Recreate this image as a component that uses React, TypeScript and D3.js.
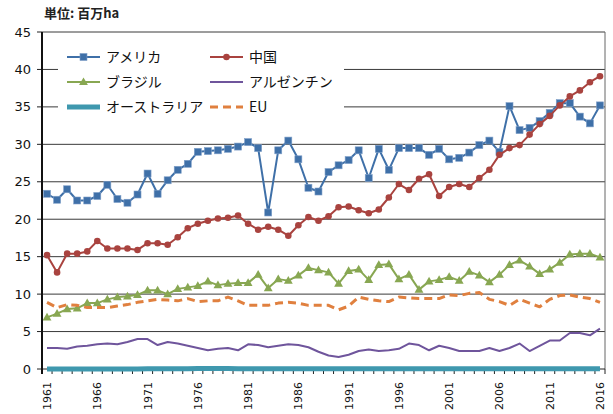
import React from 'react';
import * as d3 from 'd3';

const years = d3.range(1961, 2017);

const usa = [23.4, 22.6, 24.0, 22.5, 22.5, 23.1, 24.6, 22.7, 22.2, 23.3, 26.1, 23.4, 25.2, 26.6, 27.4, 29.0, 29.1, 29.2, 29.4, 29.7,
  30.3, 29.5, 20.9, 29.2, 30.5, 28.0, 24.2, 23.7, 26.3, 27.2, 27.9, 29.2, 25.5, 29.4, 26.6, 29.5, 29.5, 29.5, 28.6, 29.4,
  28.0, 28.2, 28.9, 29.9, 30.5, 29.0, 35.1, 31.9, 32.2, 33.1, 34.2, 35.5, 35.5, 33.7, 32.8, 35.2];
const china = [15.2, 12.9, 15.4, 15.4, 15.7, 17.1, 16.1, 16.1, 16.1, 15.9, 16.8, 16.8, 16.6, 17.6, 18.8, 19.4, 19.8, 20.1, 20.2, 20.5,
  19.4, 18.6, 19.0, 18.6, 17.8, 19.2, 20.3, 19.8, 20.4, 21.6, 21.7, 21.2, 20.8, 21.3, 22.9, 24.7, 23.9, 25.4, 26.0, 23.1,
  24.3, 24.7, 24.3, 25.5, 26.6, 28.6, 29.5, 29.9, 31.3, 32.7, 33.8, 35.2, 36.4, 37.2, 38.3, 39.1];
const brazil = [6.9, 7.4, 8.0, 8.1, 8.8, 8.8, 9.3, 9.6, 9.7, 9.9, 10.5, 10.5, 10.0, 10.7, 10.9, 11.1, 11.7, 11.2, 11.4, 11.5,
  11.5, 12.6, 10.8, 12.0, 11.8, 12.5, 13.5, 13.2, 12.9, 11.4, 13.1, 13.3, 11.9, 13.9, 14.0, 12.0, 12.6, 10.6, 11.7, 11.9,
  12.3, 11.8, 13.0, 12.5, 11.6, 12.6, 13.9, 14.5, 13.7, 12.7, 13.3, 14.2, 15.3, 15.4, 15.4, 14.9];
const argentina = [2.8, 2.8, 2.7, 3.0, 3.1, 3.3, 3.4, 3.3, 3.6, 4.0, 4.0, 3.2, 3.6, 3.4, 3.1, 2.8, 2.5, 2.7, 2.8, 2.5,
  3.3, 3.2, 2.9, 3.1, 3.3, 3.2, 2.9, 2.3, 1.8, 1.6, 1.9, 2.4, 2.6, 2.4, 2.5, 2.7, 3.4, 3.2, 2.5, 3.1,
  2.8, 2.4, 2.4, 2.4, 2.8, 2.4, 2.8, 3.4, 2.4, 3.1, 3.8, 3.8, 4.8, 4.8, 4.5, 5.4];
const australia = [0.0, 0.0, 0.0, 0.0, 0.0, 0.0, 0.0, 0.0, 0.01, 0.01, 0.02, 0.02, 0.03, 0.04, 0.05, 0.06, 0.06, 0.06, 0.07, 0.05,
  0.04, 0.05, 0.04, 0.04, 0.04, 0.05, 0.05, 0.05, 0.05, 0.04, 0.05, 0.05, 0.04, 0.05, 0.04, 0.04, 0.05, 0.05, 0.04, 0.04,
  0.05, 0.05, 0.03, 0.02, 0.02, 0.03, 0.03, 0.02, 0.02, 0.02, 0.03, 0.04, 0.04, 0.03, 0.03, 0.03];
const eu = [8.9, 8.2, 8.6, 8.5, 8.2, 8.2, 8.2, 8.4, 8.6, 8.9, 9.1, 9.3, 9.2, 9.1, 9.4, 9.0, 9.1, 9.1, 9.6, 9.1,
  8.5, 8.5, 8.5, 8.8, 8.9, 8.8, 8.5, 8.5, 8.5, 7.9, 8.4, 9.6, 9.3, 9.1, 9.0, 9.6, 9.5, 9.4, 9.4, 9.4,
  9.9, 9.8, 10.1, 10.2, 9.3, 9.0, 8.5, 9.3, 8.8, 8.3, 9.3, 9.8, 9.9, 9.6, 9.4, 8.9];

const yTicks = [0, 5, 10, 15, 20, 25, 30, 35, 40, 45];
const labelYears = [1961, 1966, 1971, 1976, 1981, 1986, 1991, 1996, 2001, 2006, 2011, 2016];

const JP = '"Noto Sans CJK JP", sans-serif';
const NUM = '"DejaVu Sans", sans-serif';

const series = [
  { name: 'アメリカ', values: usa, color: '#3f70a8', width: 2, marker: 'square', dash: null },
  { name: '中国', values: china, color: '#a9433f', width: 2, marker: 'circle', dash: null },
  { name: 'ブラジル', values: brazil, color: '#88a752', width: 2, marker: 'triangle', dash: null },
  { name: 'アルゼンチン', values: argentina, color: '#6f559c', width: 2, marker: null, dash: null },
  { name: 'オーストラリア', values: australia, color: '#3f98ae', width: 5, marker: null, dash: null },
  { name: 'EU', values: eu, color: '#e0803f', width: 3, marker: null, dash: '8,5' },
];

const left = 42, right = 605, top = 32, bottom = 369;

const x = d3.scaleBand<number>().domain(years).range([left, right]).padding(0);
const cx = (yr: number) => (x(yr) as number) + x.bandwidth() / 2;
const y = d3.scaleLinear().domain([0, 45]).range([bottom, top]);

const Marker = ({ kind, px, py, color }: { kind: string | null; px: number; py: number; color: string }) => {
  if (kind === 'square') return <rect x={px - 3.5} y={py - 3.5} width={7} height={7} fill={color} stroke="#7f9fc8" strokeWidth={0.6} />;
  if (kind === 'circle') return <circle cx={px} cy={py} r={3.3} fill={color} />;
  if (kind === 'triangle') {
    const tri = d3.symbol().type(d3.symbolTriangle).size(34)();
    return <path d={tri || ''} transform={`translate(${px},${py + 0.5})`} fill={color} />;
  }
  return null;
};

const legendRows = [
  [0, 1],
  [2, 3],
  [4, 5],
];

export default function App() {
  const line = d3.line<number>().x((_, i) => cx(years[i])).y((d) => y(d));

  return (
    <svg width={613} height={414} style={{ position: 'absolute', left: 0, top: 0, background: '#fff' }}>
      <rect width={613} height={414} fill="#fff" />
      <text x={44} y={18} fontFamily={JP} fontSize={13} fontWeight="bold" fill="#222">単位: 百万ha</text>

      {yTicks.map((t) => (
        <g key={t}>
          {t > 0 && <line x1={left} x2={right} y1={y(t)} y2={y(t)} stroke="#3a3a3a" strokeWidth={1} />}
          <line x1={37} x2={left} y1={y(t)} y2={y(t)} stroke="#222" strokeWidth={1} />
          <text x={31} y={y(t)} dy="0.35em" textAnchor="end" fontFamily={NUM} fontSize={13} fill="#111">{t}</text>
        </g>
      ))}

      <line x1={right} x2={right} y1={top} y2={bottom} stroke="#666" strokeWidth={1} />
      <line x1={left} x2={right} y1={bottom} y2={bottom} stroke="#222" strokeWidth={1} />
      {d3.range(years.length + 1).map((i) => {
        const xx = left + i * x.bandwidth();
        return <line key={i} x1={xx} x2={xx} y1={bottom} y2={bottom + 5} stroke="#222" strokeWidth={1} />;
      })}
      {labelYears.map((yr) => (
        <text key={yr} transform={`translate(${cx(yr) + 4},${382}) rotate(-90)`} textAnchor="end"
          fontFamily={NUM} fontSize={11} fill="#111">{yr}</text>
      ))}

      {series.map((s) => (
        <g key={s.name}>
          <path d={line(s.values) || ''} fill="none" stroke={s.color} strokeWidth={s.width}
            strokeDasharray={s.dash || undefined} strokeLinejoin="round" />
          {s.marker && s.values.map((v, i) => (
            <Marker key={i} kind={s.marker} px={cx(years[i])} py={y(v)} color={s.color} />
          ))}
        </g>
      ))}

      <line x1={left} x2={left} y1={top} y2={bottom + 5} stroke="#111" strokeWidth={2} />

      <g>
        <rect x={58} y={41} width={286} height={80} fill="#fff" />
        {legendRows.map((row, ri) =>
          row.map((si, ci) => {
            const s = series[si];
            const lx = ci === 0 ? 67 : 210;
            const ly = 57 + ri * 25;
            return (
              <g key={s.name}>
                <line x1={lx} x2={lx + 33} y1={ly} y2={ly} stroke={s.color} strokeWidth={s.width}
                  strokeDasharray={s.dash || undefined} />
                <Marker kind={s.marker} px={lx + 16.5} py={ly} color={s.color} />
                <text x={lx + 39} y={ly} dy="0.36em" fontFamily={JP} fontSize={14} fill="#111">{s.name}</text>
              </g>
            );
          })
        )}
      </g>
    </svg>
  );
}
